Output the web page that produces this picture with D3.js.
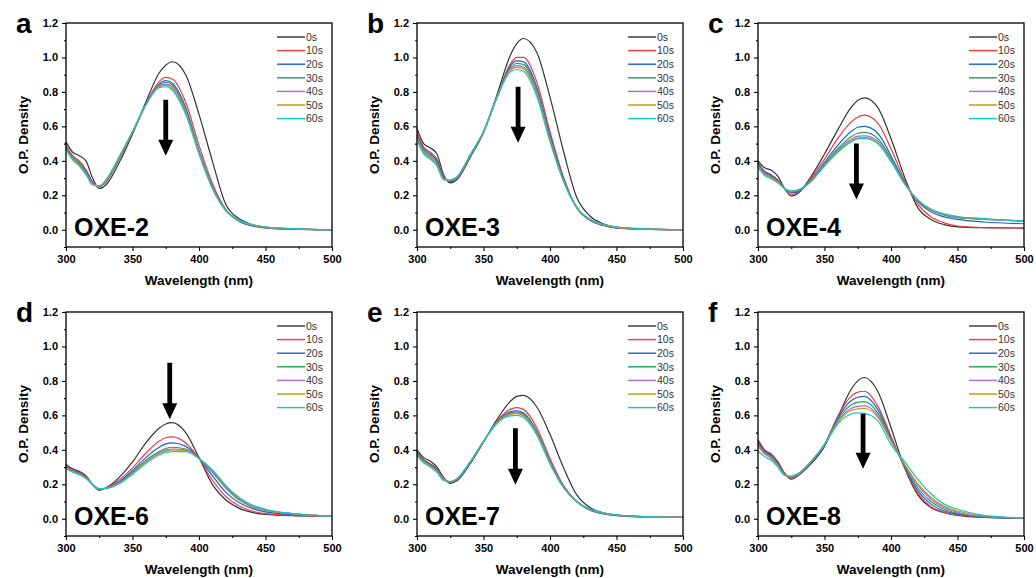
<!DOCTYPE html>
<html>
<head>
<meta charset="utf-8">
<script src="https://cdn.jsdelivr.net/npm/d3@7"></script>
<style>
body { margin: 0; background: #fff; }
svg text { font-family: Arial, "Liberation Sans", sans-serif; }
</style>
</head>
<body>
<svg id="fig" width="1036" height="578"></svg>
<script>

/*    ========    DATA    =========    */

var WAVE = [300, 305, 310, 315, 320, 325, 330, 340, 350, 360, 370, 375, 380, 390, 400, 410, 420, 430, 440, 450, 470, 500];
var TIMES = ["0s", "10s", "20s", "30s", "40s", "50s", "60s"];
var LETTERS = ["a", "b", "c", "d", "e", "f"];
var NAMES = ["OXE-2", "OXE-3", "OXE-4", "OXE-6", "OXE-7", "OXE-8"];

var X_TICKS = [300, 350, 400, 450, 500];
var X_MINOR = [325, 375, 425, 475];
var Y_TICKS = [0.0, 0.2, 0.4, 0.6, 0.8, 1.0, 1.2];
var Y_MINOR = [-0.1, 0.1, 0.3, 0.5, 0.7, 0.9, 1.1];

// OXE-2
var OXE2 = [
    [0.51, 0.45, 0.43, 0.40, 0.30, 0.24, 0.26, 0.39, 0.555, 0.74, 0.91, 0.955, 0.975, 0.90, 0.67, 0.40, 0.15, 0.065, 0.03, 0.015, 0.005, 0.0],
    [0.49, 0.43, 0.40, 0.35, 0.28, 0.25, 0.275, 0.41, 0.56, 0.73, 0.86, 0.885, 0.875, 0.74, 0.49, 0.27, 0.12, 0.05, 0.022, 0.01, 0.003, 0.0],
    [0.48, 0.42, 0.39, 0.34, 0.275, 0.25, 0.28, 0.415, 0.565, 0.73, 0.845, 0.865, 0.85, 0.71, 0.46, 0.255, 0.115, 0.05, 0.025, 0.012, 0.004, 0.0],
    [0.48, 0.42, 0.385, 0.335, 0.27, 0.25, 0.28, 0.415, 0.565, 0.725, 0.84, 0.855, 0.84, 0.70, 0.455, 0.25, 0.115, 0.052, 0.026, 0.013, 0.005, 0.0],
    [0.47, 0.415, 0.38, 0.33, 0.27, 0.252, 0.282, 0.418, 0.567, 0.725, 0.835, 0.845, 0.83, 0.69, 0.45, 0.248, 0.115, 0.053, 0.027, 0.014, 0.005, 0.0],
    [0.47, 0.41, 0.375, 0.325, 0.265, 0.253, 0.285, 0.42, 0.568, 0.725, 0.83, 0.838, 0.82, 0.68, 0.445, 0.245, 0.113, 0.054, 0.028, 0.015, 0.006, 0.0],
    [0.465, 0.405, 0.37, 0.32, 0.26, 0.255, 0.29, 0.425, 0.57, 0.725, 0.825, 0.83, 0.81, 0.67, 0.44, 0.24, 0.112, 0.056, 0.03, 0.017, 0.007, 0.0]
];

// OXE-3
var OXE3 = [
    [0.59, 0.50, 0.475, 0.44, 0.32, 0.272, 0.29, 0.42, 0.565, 0.78, 1.01, 1.08, 1.11, 1.03, 0.77, 0.46, 0.19, 0.08, 0.035, 0.015, 0.005, 0.0],
    [0.57, 0.48, 0.45, 0.41, 0.31, 0.28, 0.295, 0.425, 0.565, 0.77, 0.96, 1.0, 1.0, 0.86, 0.57, 0.31, 0.13, 0.055, 0.025, 0.01, 0.003, 0.0],
    [0.55, 0.47, 0.44, 0.40, 0.305, 0.28, 0.30, 0.43, 0.567, 0.77, 0.95, 0.98, 0.975, 0.83, 0.55, 0.30, 0.13, 0.055, 0.026, 0.011, 0.004, 0.0],
    [0.54, 0.46, 0.43, 0.39, 0.30, 0.282, 0.30, 0.43, 0.568, 0.77, 0.94, 0.965, 0.96, 0.81, 0.535, 0.295, 0.13, 0.057, 0.027, 0.012, 0.004, 0.0],
    [0.535, 0.455, 0.42, 0.38, 0.298, 0.285, 0.303, 0.432, 0.568, 0.765, 0.93, 0.953, 0.945, 0.80, 0.53, 0.29, 0.13, 0.058, 0.028, 0.013, 0.005, 0.0],
    [0.53, 0.45, 0.415, 0.375, 0.295, 0.287, 0.305, 0.434, 0.569, 0.765, 0.925, 0.943, 0.935, 0.79, 0.52, 0.287, 0.13, 0.06, 0.03, 0.014, 0.005, 0.0],
    [0.52, 0.44, 0.41, 0.37, 0.29, 0.29, 0.308, 0.436, 0.57, 0.765, 0.915, 0.93, 0.92, 0.775, 0.51, 0.283, 0.13, 0.062, 0.032, 0.016, 0.006, 0.0]
];

// OXE-4
var OXE4 = [
    [0.40, 0.36, 0.345, 0.31, 0.24, 0.195, 0.21, 0.31, 0.44, 0.58, 0.71, 0.75, 0.765, 0.71, 0.53, 0.31, 0.13, 0.06, 0.03, 0.017, 0.012, 0.01],
    [0.39, 0.34, 0.32, 0.29, 0.24, 0.205, 0.215, 0.30, 0.41, 0.53, 0.625, 0.655, 0.665, 0.62, 0.47, 0.29, 0.15, 0.075, 0.04, 0.022, 0.013, 0.01],
    [0.385, 0.335, 0.315, 0.285, 0.24, 0.215, 0.22, 0.29, 0.39, 0.49, 0.57, 0.595, 0.60, 0.56, 0.43, 0.28, 0.165, 0.105, 0.075, 0.06, 0.045, 0.035],
    [0.38, 0.33, 0.31, 0.28, 0.24, 0.22, 0.225, 0.285, 0.38, 0.47, 0.54, 0.56, 0.565, 0.53, 0.415, 0.275, 0.17, 0.115, 0.085, 0.07, 0.06, 0.05],
    [0.375, 0.325, 0.305, 0.278, 0.24, 0.222, 0.228, 0.283, 0.375, 0.46, 0.525, 0.543, 0.545, 0.515, 0.405, 0.272, 0.172, 0.117, 0.088, 0.073, 0.062, 0.05],
    [0.37, 0.32, 0.30, 0.276, 0.24, 0.224, 0.23, 0.282, 0.372, 0.455, 0.517, 0.533, 0.535, 0.505, 0.40, 0.27, 0.173, 0.118, 0.09, 0.075, 0.063, 0.05],
    [0.36, 0.315, 0.295, 0.272, 0.24, 0.225, 0.232, 0.282, 0.37, 0.45, 0.51, 0.527, 0.53, 0.50, 0.395, 0.27, 0.175, 0.12, 0.092, 0.077, 0.065, 0.052]
];

// OXE-6
var OXE6 = [
    [0.315, 0.29, 0.275, 0.25, 0.20, 0.165, 0.18, 0.24, 0.33, 0.44, 0.525, 0.55, 0.558, 0.50, 0.355, 0.20, 0.11, 0.062, 0.037, 0.025, 0.018, 0.015],
    [0.31, 0.285, 0.27, 0.245, 0.20, 0.168, 0.18, 0.225, 0.295, 0.38, 0.45, 0.47, 0.475, 0.44, 0.35, 0.225, 0.13, 0.075, 0.045, 0.03, 0.02, 0.015],
    [0.305, 0.28, 0.265, 0.243, 0.20, 0.17, 0.178, 0.215, 0.28, 0.355, 0.415, 0.435, 0.44, 0.42, 0.35, 0.25, 0.155, 0.095, 0.06, 0.04, 0.025, 0.015],
    [0.30, 0.278, 0.262, 0.24, 0.20, 0.172, 0.177, 0.21, 0.27, 0.34, 0.39, 0.408, 0.415, 0.405, 0.35, 0.27, 0.18, 0.11, 0.07, 0.048, 0.03, 0.015],
    [0.298, 0.276, 0.26, 0.238, 0.20, 0.173, 0.176, 0.207, 0.265, 0.333, 0.383, 0.40, 0.405, 0.40, 0.35, 0.275, 0.185, 0.115, 0.072, 0.05, 0.03, 0.015],
    [0.295, 0.274, 0.258, 0.236, 0.20, 0.174, 0.176, 0.205, 0.262, 0.328, 0.377, 0.393, 0.40, 0.397, 0.35, 0.28, 0.19, 0.12, 0.075, 0.052, 0.03, 0.015],
    [0.29, 0.27, 0.255, 0.233, 0.198, 0.175, 0.176, 0.203, 0.258, 0.32, 0.37, 0.385, 0.39, 0.39, 0.35, 0.285, 0.195, 0.125, 0.08, 0.055, 0.03, 0.015]
];

// OXE-7
var OXE7 = [
    [0.40, 0.355, 0.335, 0.30, 0.24, 0.205, 0.22, 0.32, 0.445, 0.575, 0.68, 0.71, 0.716, 0.65, 0.49, 0.30, 0.14, 0.065, 0.035, 0.022, 0.013, 0.008],
    [0.39, 0.345, 0.32, 0.29, 0.235, 0.21, 0.225, 0.325, 0.447, 0.565, 0.635, 0.645, 0.635, 0.53, 0.35, 0.195, 0.10, 0.05, 0.028, 0.018, 0.01, 0.008],
    [0.38, 0.34, 0.315, 0.285, 0.232, 0.212, 0.228, 0.327, 0.448, 0.562, 0.62, 0.627, 0.615, 0.51, 0.335, 0.19, 0.10, 0.052, 0.03, 0.02, 0.012, 0.008],
    [0.375, 0.335, 0.31, 0.28, 0.23, 0.213, 0.229, 0.328, 0.448, 0.56, 0.615, 0.62, 0.61, 0.505, 0.33, 0.188, 0.10, 0.053, 0.031, 0.021, 0.012, 0.008],
    [0.372, 0.332, 0.307, 0.277, 0.228, 0.214, 0.23, 0.329, 0.449, 0.558, 0.61, 0.615, 0.603, 0.50, 0.327, 0.186, 0.10, 0.054, 0.032, 0.022, 0.012, 0.008],
    [0.37, 0.33, 0.305, 0.275, 0.226, 0.215, 0.231, 0.33, 0.449, 0.556, 0.605, 0.61, 0.597, 0.495, 0.323, 0.184, 0.10, 0.055, 0.033, 0.022, 0.012, 0.008],
    [0.365, 0.325, 0.30, 0.27, 0.222, 0.216, 0.233, 0.332, 0.45, 0.553, 0.597, 0.60, 0.588, 0.487, 0.318, 0.182, 0.10, 0.056, 0.034, 0.023, 0.013, 0.008]
];

// OXE-8
var OXE8 = [
    [0.458, 0.40, 0.375, 0.33, 0.265, 0.23, 0.25, 0.32, 0.42, 0.59, 0.75, 0.80, 0.82, 0.74, 0.53, 0.30, 0.14, 0.065, 0.035, 0.02, 0.008, 0.003],
    [0.45, 0.395, 0.37, 0.325, 0.262, 0.235, 0.253, 0.325, 0.43, 0.595, 0.71, 0.735, 0.74, 0.655, 0.48, 0.30, 0.15, 0.07, 0.038, 0.022, 0.009, 0.004],
    [0.44, 0.39, 0.365, 0.32, 0.26, 0.238, 0.255, 0.328, 0.43, 0.585, 0.685, 0.705, 0.71, 0.635, 0.47, 0.305, 0.165, 0.085, 0.045, 0.027, 0.011, 0.004],
    [0.435, 0.385, 0.36, 0.315, 0.258, 0.24, 0.257, 0.33, 0.43, 0.575, 0.66, 0.677, 0.68, 0.615, 0.46, 0.31, 0.18, 0.10, 0.055, 0.032, 0.012, 0.004],
    [0.43, 0.38, 0.355, 0.31, 0.256, 0.242, 0.258, 0.332, 0.43, 0.565, 0.64, 0.652, 0.655, 0.60, 0.455, 0.315, 0.195, 0.115, 0.065, 0.038, 0.014, 0.005],
    [0.42, 0.375, 0.35, 0.305, 0.254, 0.245, 0.26, 0.333, 0.43, 0.56, 0.628, 0.638, 0.64, 0.59, 0.45, 0.32, 0.205, 0.125, 0.072, 0.045, 0.016, 0.005],
    [0.395, 0.36, 0.34, 0.30, 0.252, 0.248, 0.262, 0.335, 0.43, 0.55, 0.608, 0.615, 0.612, 0.57, 0.43, 0.335, 0.23, 0.145, 0.085, 0.055, 0.02, 0.005]
];

var SPECTRA = [OXE2, OXE3, OXE4, OXE6, OXE7, OXE8];

// arrow per panel: wavelength, tail value, tip value
var ARROWS = [
    [375, 0.755, 0.43],
    [376, 0.83, 0.505],
    [374, 0.50, 0.175],
    [378, 0.905, 0.578],
    [374, 0.525, 0.198],
    [379, 0.61, 0.29]
];

/*    ========    SETTINGS    =========    */

var svg = d3.select("#fig");

var COLORS = ["#333333", "#f23a3a", "#1c5fe0", "#20a05c", "#a56ae0", "#cc9200", "#12c6cc"];

var COL_X = [66, 417, 758];
var ROW_Y = [23, 312];
var PW = 266;
var PH = 224;

var x = d3.scaleLinear().domain([300, 500]).range([0, PW]);
var y = d3.scaleLinear().domain([-0.1, 1.2]).range([PH, 0]);

var line = d3.line()
    .x(function(d, i) { return x(WAVE[i]); })
    .y(function(d) { return y(d); })
    .curve(d3.curveMonotoneX);

/*    ========    FUNCTIONS    =========    */

function styleAxis(g) {
    g.select(".domain").remove();
    g.attr("font-family", "Arial, 'Liberation Sans', sans-serif")
        .attr("font-size", 11)
        .attr("font-weight", "bold");
    g.selectAll("line").attr("stroke", "#000").attr("stroke-width", 1.1);
    g.selectAll("text").attr("fill", "#000");
}

function drawPanel(k) {
    var x0 = COL_X[k % 3];
    var y0 = ROW_Y[Math.floor(k / 3)];
    var g = svg.append("g").attr("transform", "translate(" + x0 + "," + y0 + ")");

    // == axes == //
    g.append("g")
        .attr("transform", "translate(0," + PH + ")")
        .call(d3.axisBottom(x).tickValues(X_TICKS).tickSize(4).tickPadding(4).tickFormat(d3.format("d")))
        .call(styleAxis);
    g.append("g")
        .attr("transform", "translate(0," + PH + ")")
        .call(d3.axisBottom(x).tickValues(X_MINOR).tickSize(2).tickFormat(""))
        .call(styleAxis);
    g.append("g")
        .call(d3.axisLeft(y).tickValues(Y_TICKS).tickSize(4).tickPadding(4).tickFormat(d3.format(".1f")))
        .call(styleAxis);
    g.append("g")
        .call(d3.axisLeft(y).tickValues(Y_MINOR).tickSize(2).tickFormat(""))
        .call(styleAxis);

    // == spectra == //
    SPECTRA[k].forEach(function(s, i) {
        g.append("path")
            .datum(s)
            .attr("d", line)
            .attr("fill", "none")
            .attr("stroke", COLORS[i])
            .attr("stroke-width", 1.2);
    });

    // frame
    g.append("rect")
        .attr("width", PW)
        .attr("height", PH)
        .attr("fill", "none")
        .attr("stroke", "#000")
        .attr("stroke-width", 1.3);

    // == legend == //
    var leg = g.append("g").attr("transform", "translate(211,14)");
    TIMES.forEach(function(t, i) {
        leg.append("line")
            .attr("x1", 0).attr("x2", 28)
            .attr("y1", i * 13.6).attr("y2", i * 13.6)
            .attr("stroke", COLORS[i])
            .attr("stroke-width", 1.4);
        leg.append("text")
            .attr("x", 29)
            .attr("y", i * 13.6 + 3.8)
            .attr("font-size", 10.5)
            .attr("fill", "#333")
            .text(t);
    });

    // == arrow == //
    var a = ARROWS[k];
    var ax = x(a[0]), ay1 = y(a[1]), ay2 = y(a[2]);
    var hw = 2.4, head = 7.5, hl = 16;
    g.append("path")
        .attr("d", "M" + (ax - hw) + "," + ay1 + "H" + (ax + hw) + "V" + (ay2 - hl) +
            "H" + (ax + head) + "L" + ax + "," + ay2 + "L" + (ax - head) + "," + (ay2 - hl) +
            "H" + (ax - hw) + "Z")
        .attr("fill", "#000");

    // == labels == //
    g.append("text")
        .attr("x", 8)
        .attr("y", 213)
        .attr("font-size", 25)
        .attr("font-weight", "bold")
        .text(NAMES[k]);

    g.append("text")
        .attr("x", -50)
        .attr("y", 10)
        .attr("font-size", 28)
        .attr("font-weight", "bold")
        .text(LETTERS[k]);

    g.append("text")
        .attr("x", PW / 2)
        .attr("y", PH + 38)
        .attr("text-anchor", "middle")
        .attr("font-size", 13.5)
        .attr("font-weight", "bold")
        .text("Wavelength (nm)");

    g.append("text")
        .attr("transform", "translate(-38," + (PH / 2) + ") rotate(-90)")
        .attr("text-anchor", "middle")
        .attr("font-size", 13.5)
        .attr("font-weight", "bold")
        .text("O.P. Density");
}

/*    ========    RUN    =========    */

for (var k = 0; k < 6; k++) {
    drawPanel(k);
}

</script>
</body>
</html>
